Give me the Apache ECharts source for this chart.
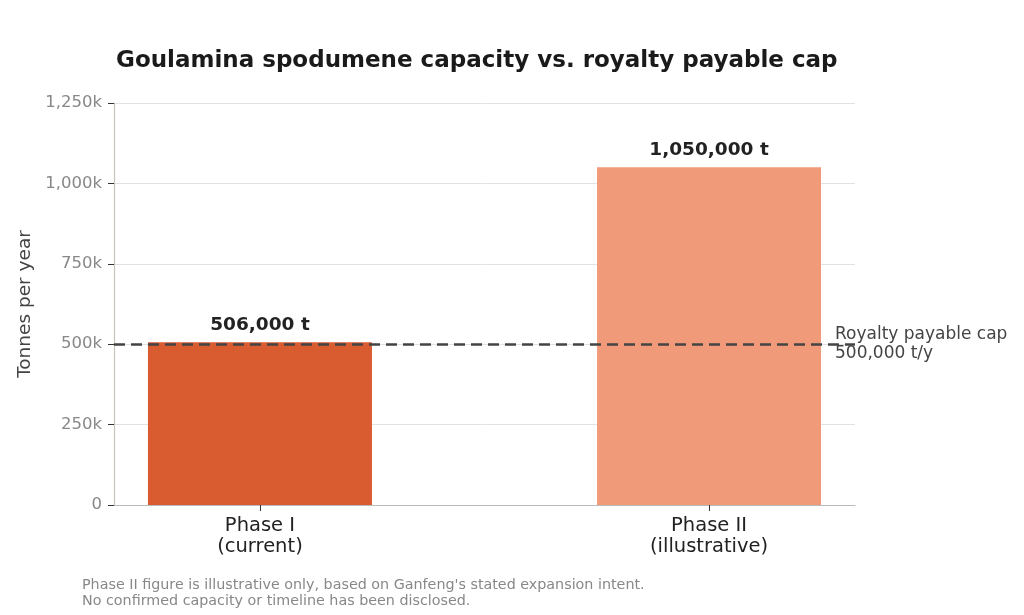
<!DOCTYPE html>
<html>
<head>
<meta charset="utf-8">
<script src="https://cdn.jsdelivr.net/npm/echarts@6/dist/echarts.min.js"></script>
<style>
  html, body { margin: 0; padding: 0; background: #fff; }
  #chart { width: 1024px; height: 615px; }
</style>
</head>
<body>
<div id="chart"></div>
<script>
// data
const categories = ['Phase I\n(current)', 'Phase II\n(illustrative)'];
const capacity = [506000, 1050000];
const barColors = ['#d95b30', '#f09a7a'];
const capValue = 500000;
const capLabel = 'Royalty payable cap\n500,000 t/y';
const yTicks = { min: 0, max: 1250000, interval: 250000 };
const xRange = { min: -0.325, max: 1.325 };
const footnote = "Phase II figure is illustrative only, based on Ganfeng's stated expansion intent.\nNo confirmed capacity or timeline has been disclosed.";

const font = 'DejaVu Sans';
const fmt = v => v.toLocaleString('en-US');
const positions = categories.map((c, i) => i);

const chart = echarts.init(document.getElementById('chart'), null, { renderer: 'canvas' });

chart.setOption({
    animation: false,
    textStyle: { fontFamily: font },
    title: {
        text: 'Goulamina spodumene capacity vs. royalty payable cap',
        left: 111,
        top: 45,
        textStyle: { fontFamily: font, fontSize: 23, fontWeight: 'bold', color: '#1a1a1a' }
    },
    grid: { left: 114, right: 169, top: 103, bottom: 110 },
    xAxis: {
        type: 'value',
        min: xRange.min,
        max: xRange.max,
        splitLine: { show: false },
        axisLine: { show: true, lineStyle: { color: '#bbbbbb', width: 1.2 } },
        axisTick: { show: true, customValues: positions, length: 6, lineStyle: { color: '#333' } },
        axisLabel: {
            customValues: positions,
            formatter: v => categories[Math.round(v)],
            fontSize: 19.5, color: '#222', lineHeight: 21, margin: 10
        }
    },
    yAxis: {
        type: 'value',
        min: yTicks.min,
        max: yTicks.max,
        interval: yTicks.interval,
        name: 'Tonnes per year',
        nameLocation: 'middle',
        nameGap: 76,
        nameTextStyle: { fontSize: 18.5, color: '#444' },
        axisLine: { show: true, onZero: false, lineStyle: { color: '#c8c4b8', width: 1.2 } },
        axisTick: { show: true, length: 6, lineStyle: { color: '#333' } },
        axisLabel: {
            fontSize: 16.5, color: '#888', margin: 12,
            formatter: v => v === 0 ? '0' : fmt(v / 1000) + 'k'
        },
        splitLine: { lineStyle: { color: '#e2e2e2', width: 1 } }
    },
    series: [{
        type: 'bar',
        barWidth: 224,
        data: capacity.map((v, i) => ({ value: [positions[i], v], itemStyle: { color: barColors[i] } })),
        label: {
            show: true,
            position: 'top',
            distance: 8,
            fontSize: 18.5,
            fontWeight: 'bold',
            color: '#222',
            formatter: p => fmt(p.value[1]) + ' t'
        },
        markLine: {
            silent: true,
            symbol: 'none',
            data: [{ yAxis: capValue }],
            lineStyle: { color: '#444', width: 2.5, type: [11, 6] },
            label: {
                show: true,
                position: 'end',
                distance: -20,
                formatter: capLabel,
                fontSize: 17,
                lineHeight: 19,
                color: '#444',
                align: 'left'
            }
        }
    }],
    graphic: [{
        type: 'text',
        left: 82,
        top: 577,
        style: { text: footnote, font: '14.3px "DejaVu Sans"', fill: '#888', lineHeight: 16 }
    }]
});
</script>
</body>
</html>
